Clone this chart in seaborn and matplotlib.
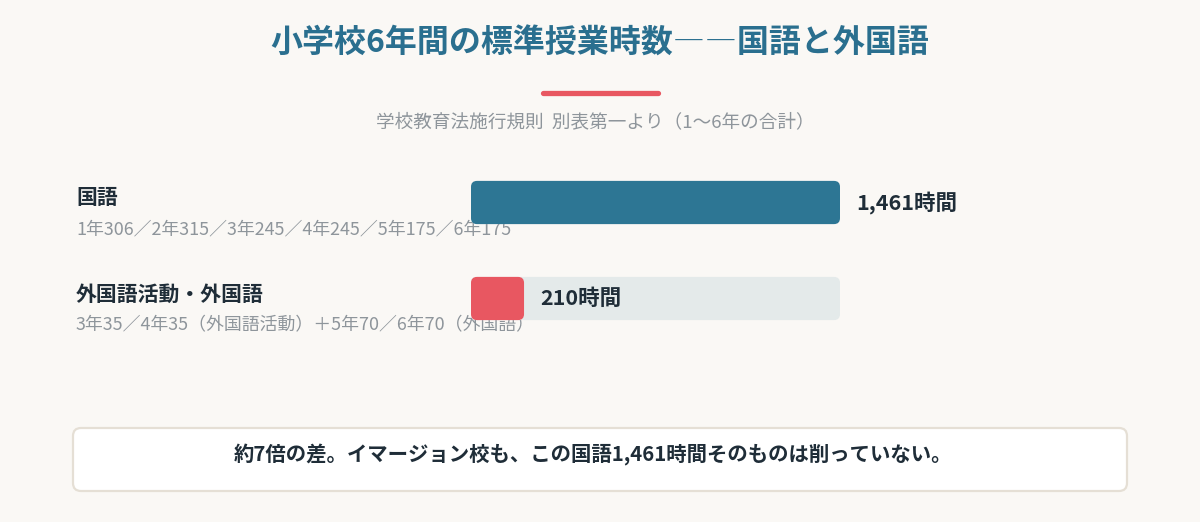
import numpy as np
import pandas as pd
import matplotlib
matplotlib.use('Agg')
import matplotlib.pyplot as plt
import seaborn as sns
from matplotlib.patches import FancyBboxPatch

# Data
subjects = ['国語', '外国語活動・外国語']
hours = [1461, 210]
details = ['1年306／2年315／3年245／4年245／5年175／6年175',
           '3年35／4年35（外国語活動）＋5年70／6年70（外国語）']
value_labels = ['1,461時間', '210時間']
title = '小学校6年間の標準授業時数――国語と外国語'
subtitle = '学校教育法施行規則  別表第一より（1〜6年の合計）'
note = '約7倍の差。イマージョン校も、この国語1,461時間そのものは削っていない。'

# Colours
bg = '#FAF8F5'
teal = '#2D7694'
red = '#E85761'
track_color = '#E4EAEA'
dark = '#1F2D38'
gray = '#8E959B'

sns.set_theme(style='white')
plt.rcParams['font.family'] = ['Noto Sans CJK JP', 'DejaVu Sans']

fig = plt.figure(figsize=(12, 5.22), dpi=100)
fig.patch.set_facecolor(bg)

# Background axes in pixel coordinates for text and decoration
bgax = fig.add_axes([0, 0, 1, 1])
bgax.set_xlim(0, 1200)
bgax.set_ylim(522, 0)
bgax.axis('off')
bgax.patch.set_alpha(0)

bgax.text(600, 44, title, ha='center', va='center', fontsize=23,
          fontweight='bold', color='#2A6F8F')
bgax.plot([543, 658], [93, 93], color=red, lw=3.8, solid_capstyle='round')
bgax.text(595, 122, subtitle, ha='center', va='center', fontsize=13.4, color=gray)

label_y = [198, 294]
for i, (s, d) in enumerate(zip(subjects, details)):
    bgax.text(76, label_y[i], s, ha='left', va='center', fontsize=15,
              fontweight='bold', color=dark)
    bgax.text(76, label_y[i] + 31, d, ha='left', va='center', fontsize=12.9,
              color=gray)

box = FancyBboxPatch((73, 428), 1054, 63, boxstyle='round,pad=0,rounding_size=8',
                     fc='white', ec='#E5DFD5', lw=1.6)
bgax.add_patch(box)
bgax.text(593, 455, note, ha='center', va='center', fontsize=14.7,
          fontweight='bold', color=dark)

# Bar axes
ax = fig.add_axes([471 / 1200, (522 - 346.5) / 522, 369 / 1200, 192 / 522])
ax.patch.set_alpha(0)
df = pd.DataFrame({'subject': subjects, 'hours': hours})
track = max(hours)
sns.barplot(x=[track] * len(subjects), y=subjects, color=track_color,
            width=0.45, ax=ax, orient='h', saturation=1)
sns.barplot(data=df, x='hours', y='subject', hue='subject', palette=[teal, red],
            width=0.45, ax=ax, orient='h', legend=False, saturation=1)
ax.set_xlim(0, track)
ax.set_ylim(1.5, -0.5)

# rounded corners
asp = (2 / 192) / (track / 369)
for p in list(ax.patches):
    x0, y0, w, h = p.get_x(), p.get_y(), p.get_width(), p.get_height()
    fc = p.get_facecolor()
    p.remove()
    ax.add_patch(FancyBboxPatch((x0, y0), w, h,
                                boxstyle='round,pad=0,rounding_size=24',
                                mutation_aspect=asp, fc=fc, ec='none'))

for i, (v, lab) in enumerate(zip(hours, value_labels)):
    ax.annotate(lab, xy=(v, i), xytext=(12, 0), textcoords='offset points',
                ha='left', va='center', fontsize=15.5, fontweight='bold', color=dark)

ax.axis('off')

fig.savefig('out.png', dpi=100, facecolor=bg)
